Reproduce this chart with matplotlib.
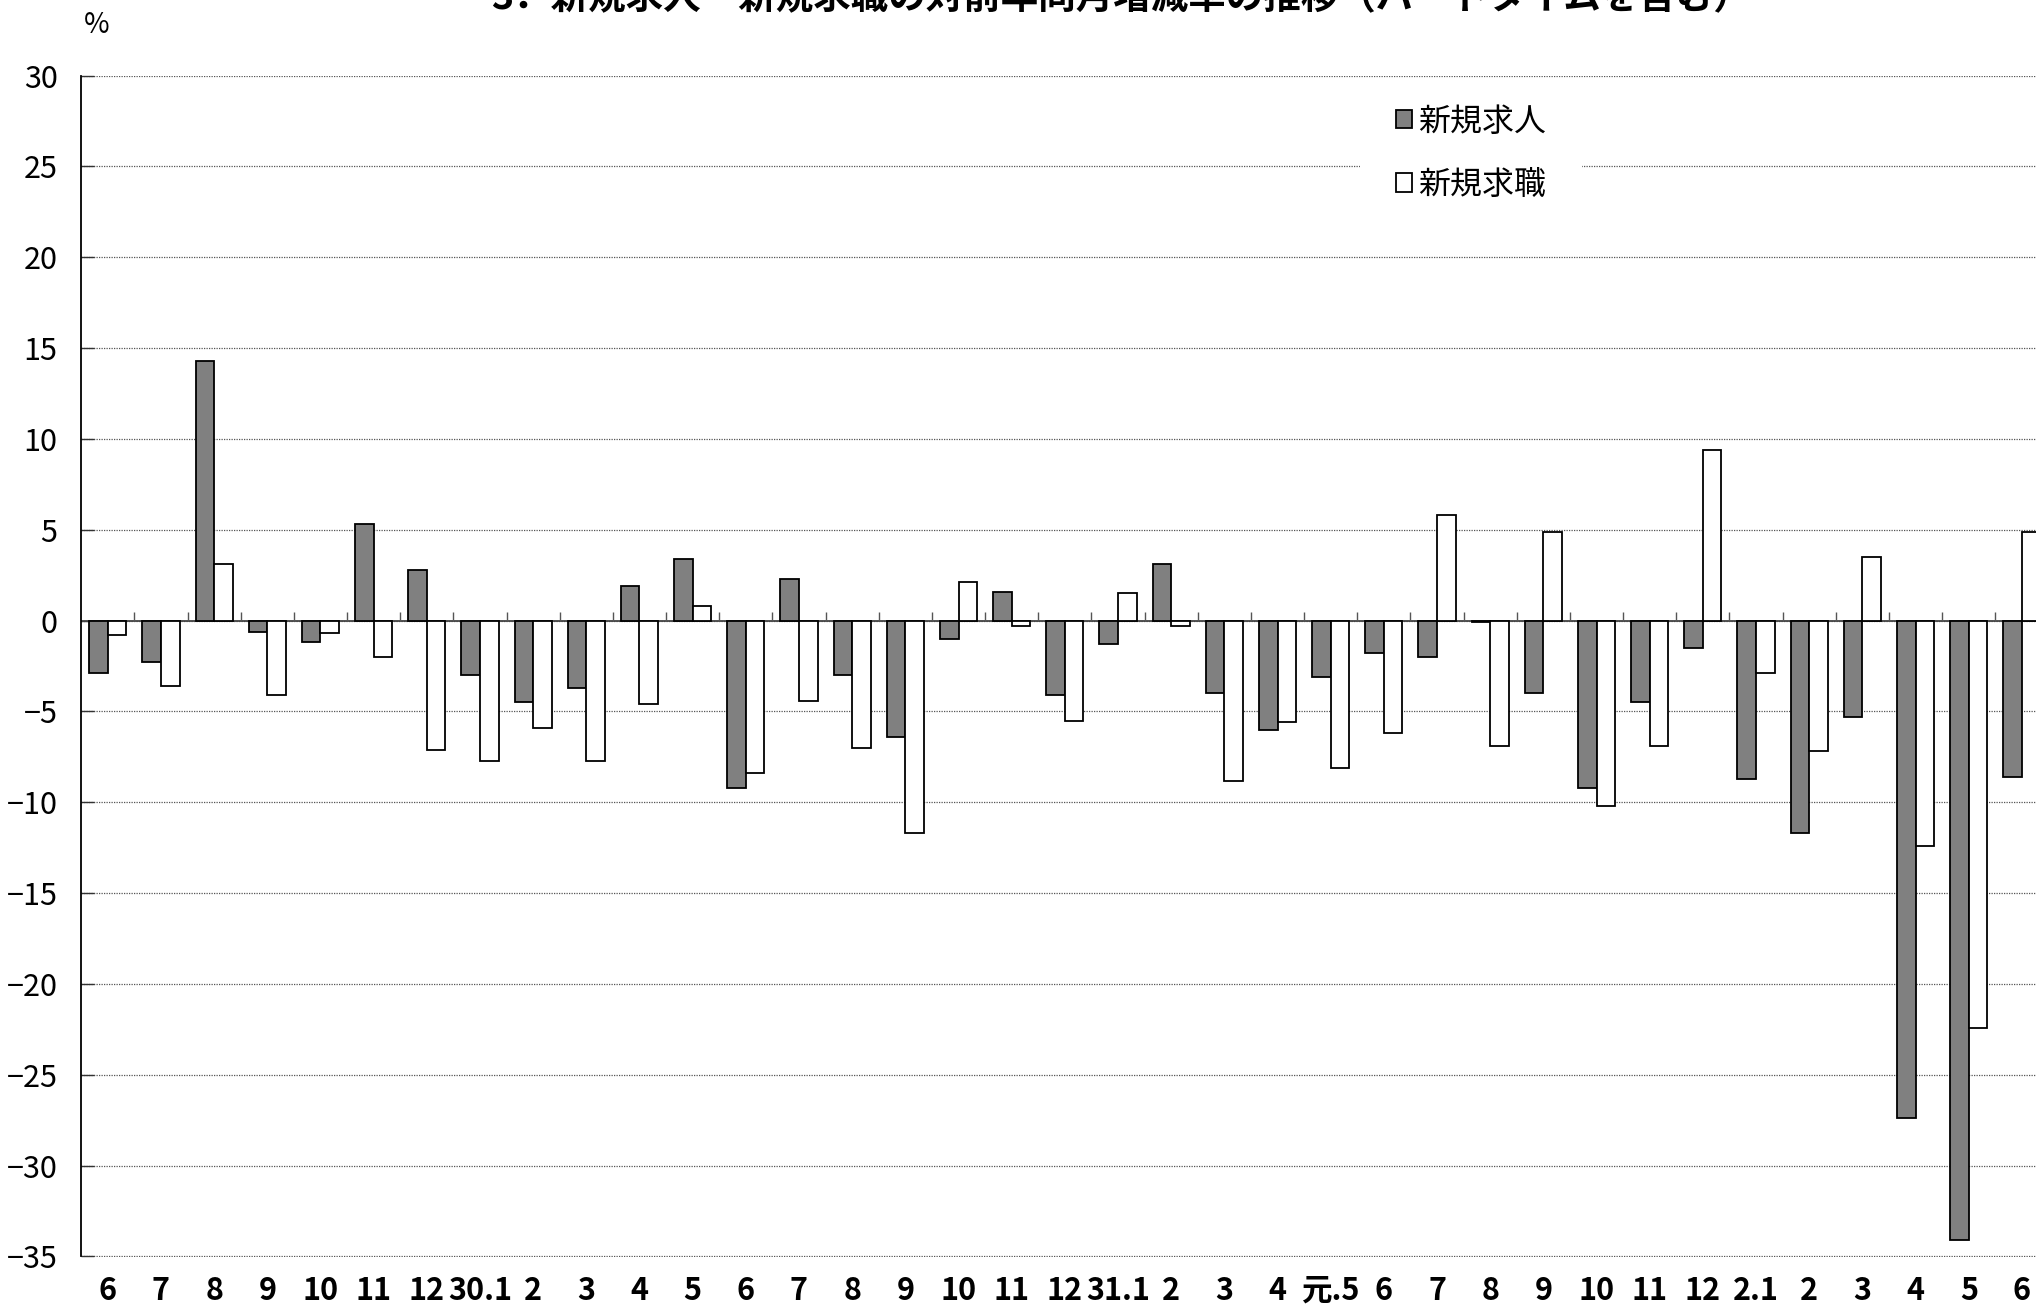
"""Monthly year-on-year change of new job offers / new job seekers."""

import matplotlib

matplotlib.use("Agg")

import matplotlib.pyplot as plt
from matplotlib.patches import Rectangle
import numpy as np


TITLE = "3．新規求人・新規求職の対前年同月増減率の推移（パートタイムを含む）"
MONTHS = [
    "6", "7", "8", "9", "10", "11", "12", "30.1", "2", "3", "4", "5",
    "6", "7", "8", "9", "10", "11", "12", "31.1", "2", "3", "4", "元.5",
    "6", "7", "8", "9", "10", "11", "12", "2.1", "2", "3", "4", "5", "6",
]
NEW_OFFERS = [
    -2.9, -2.3, 14.3, -0.6, -1.2, 5.3, 2.8, -3.0, -4.5, -3.7, 1.9, 3.4,
    -9.2, 2.3, -3.0, -6.4, -1.0, 1.6, -4.1, -1.3, 3.1, -4.0, -6.0, -3.1,
    -1.8, -2.0, -0.1, -4.0, -9.2, -4.5, -1.5, -8.7, -11.7, -5.3, -27.4, -34.1, -8.6,
]
NEW_SEEKERS = [
    -0.8, -3.6, 3.1, -4.1, -0.7, -2.0, -7.1, -7.7, -5.9, -7.7, -4.6, 0.8,
    -8.4, -4.4, -7.0, -11.7, 2.1, -0.3, -5.5, 1.5, -0.3, -8.8, -5.6, -8.1,
    -6.2, 5.8, -6.9, 4.9, -10.2, -6.9, 9.4, -2.9, -7.2, 3.5, -12.4, -22.4, 4.9,
]
SERIES_LABELS = ["新規求人", "新規求職"]
Y_TICKS = list(range(-35, 31, 5))

W, H = 2036, 1309
JP_FONT = ["Noto Sans CJK JP", "DejaVu Sans"]


def main() -> None:
    plt.rcParams["font.family"] = JP_FONT

    fig = plt.figure(figsize=(W / 100, H / 100), dpi=100)
    left, right = 81.2 / W, 1.0
    bottom, top = 1 - 1256.5 / H, 1 - 75.6 / H
    ax = fig.add_axes([left, bottom, right - left, top - bottom])

    x = np.arange(len(MONTHS))
    bw = 0.35
    ax.bar(x - bw / 2, NEW_OFFERS, width=bw, color="#808080", edgecolor="black",
           linewidth=1.3, zorder=3, label=SERIES_LABELS[0])
    ax.bar(x + bw / 2, NEW_SEEKERS, width=bw, color="white", edgecolor="black",
           linewidth=1.3, zorder=3, label=SERIES_LABELS[1])

    ax.axhline(0, color="#444444", linewidth=1.3, zorder=2)
    ax.vlines(x[:-1] + 0.5, 0, 0.5, color="#555555", linewidth=1.0, zorder=2)

    ax.set_xlim(-0.5, -0.5 + (W - 81.2) / 53.17)
    ax.set_ylim(-35, 30)
    ax.set_yticks(Y_TICKS)
    ax.set_yticklabels([f"\u2212{abs(v)}" if v < 0 else str(v) for v in Y_TICKS])
    ax.set_xticks(x)
    ax.set_xticklabels(MONTHS, fontweight="bold")

    ax.tick_params(axis="y", direction="in", length=9, width=1.0, color="#333333",
                   labelsize=22, pad=17)
    ax.tick_params(axis="x", length=0, labelsize=22, pad=13)

    ax.grid(axis="y", color="#555555", linestyle=(0, (1, 1)), linewidth=0.9, zorder=0)
    ax.set_axisbelow(True)
    for side in ("top", "right", "bottom"):
        ax.spines[side].set_visible(False)
    ax.spines["left"].set_color("black")
    ax.spines["left"].set_linewidth(1.3)

    # white backdrop behind the legend that breaks the gridline
    ax.add_patch(Rectangle((1360 / W, 1 - 205 / H), 222 / W, 110 / H,
                           transform=fig.transFigure, facecolor="white",
                           edgecolor="none", zorder=4, clip_on=False))
    leg = ax.legend(loc="upper left", bbox_to_anchor=(1370 / W, 1 - 80 / H),
                    bbox_transform=fig.transFigure, frameon=False,
                    prop={"family": JP_FONT, "size": 23},
                    handlelength=0.5, handleheight=0.5, handletextpad=0.2,
                    labelspacing=0.98, borderpad=0.3)
    leg.set_zorder(6)

    fig.text(97 / W, 1 - 25 / H, "%", fontsize=20, ha="center", va="center")
    fig.text(1121 / W, 1 - 9 / H, TITLE, fontsize=27, fontweight="bold",
             ha="center", va="baseline")

    fig.savefig("out.png", dpi=100)
    plt.close(fig)


if __name__ == "__main__":
    main()
